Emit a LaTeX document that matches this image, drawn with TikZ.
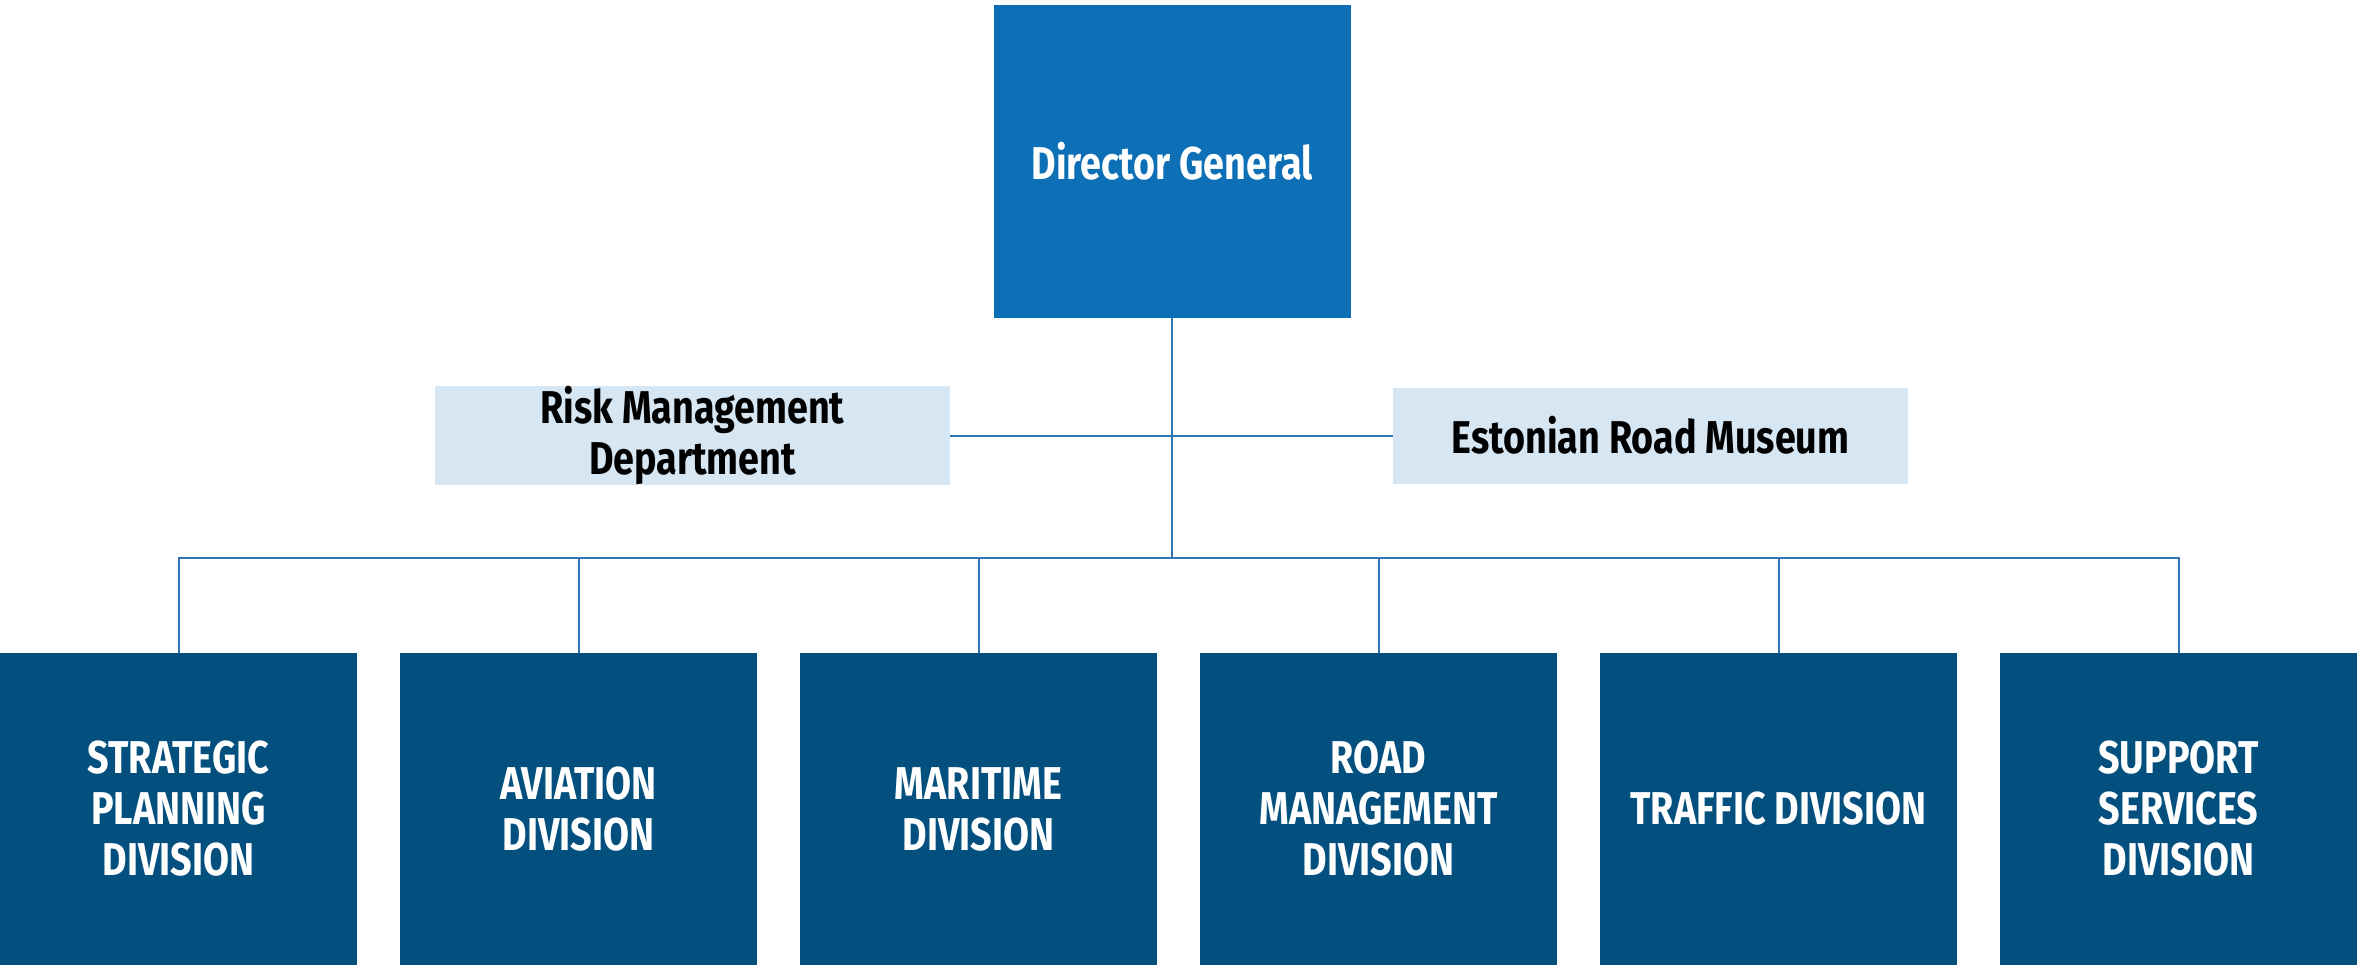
\documentclass[tikz,border=0pt]{standalone}
\usepackage{fontspec}
\setmainfont{Fira Sans}[FakeStretch=0.82]
\usepackage{tikz}

\definecolor{dgblue}{HTML}{0D6FB5}
\definecolor{divblue}{HTML}{034F7D}
\definecolor{paleblue}{HTML}{D6E6F2}
\definecolor{wireblue}{HTML}{2E75B6}

\begin{document}
\begin{tikzpicture}[x=0.5pt, y=-0.5pt]
    % Styles
    \tikzstyle{head} = [rectangle, fill=dgblue, text=white, minimum width=178.5pt, minimum height=156.5pt, align=center, inner sep=0pt, font=\bfseries\fontsize{23}{25.5}\selectfont]
    \tikzstyle{staff} = [rectangle, fill=paleblue, text=black, minimum width=257.5pt, minimum height=48pt, align=center, inner sep=0pt, font=\bfseries\fontsize{23}{25.5}\selectfont]
    \tikzstyle{division} = [rectangle, fill=divblue, text=white, minimum width=178.5pt, minimum height=156pt, align=center, inner sep=0pt, font=\bfseries\fontsize{23}{25.5}\selectfont]
    \tikzstyle{wire} = [draw=wireblue, line width=1pt]

    \useasboundingbox (0,0) rectangle (2371,965);

    % Nodes
    \node[head] (dg) at (1172,161.5) {Director General};
    \node[staff] (risk) at (692.5,435.5) {Risk Management\\Department};
    \node[staff] (museum) at (1650.5,435.5) {Estonian Road Museum};
    \coordinate (hub) at (1172,558);

    \node[division] (div1) at (178.5,809) {STRATEGIC\\PLANNING\\DIVISION};
    \node[division] (div2) at (578.5,809) {AVIATION\\DIVISION};
    \node[division] (div3) at (978.5,809) {MARITIME\\DIVISION};
    \node[division] (div4) at (1378.5,809) {ROAD\\MANAGEMENT\\DIVISION};
    \node[division] (div5) at (1778.5,809) {TRAFFIC DIVISION};
    \node[division] (div6) at (2178.5,809) {SUPPORT\\SERVICES\\DIVISION};

    % Connectors
    \draw[wire] (dg.south) -- (hub);
    \draw[wire] (risk.east) -- (museum.west);
    \foreach \d in {div1,div2,div3,div4,div5,div6}
        \draw[wire] (hub) -| (\d.north);
\end{tikzpicture}
\end{document}
